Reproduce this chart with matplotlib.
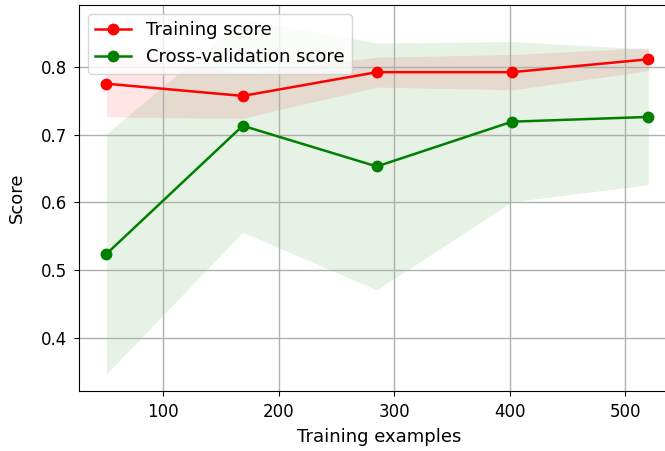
import matplotlib
matplotlib.use("Agg")
import matplotlib.pyplot as plt
import numpy as np

train_sizes = [51, 169, 285, 402, 520]
train_mean = [0.775, 0.757, 0.792, 0.792, 0.811]
train_std = [0.049, 0.033, 0.022, 0.026, 0.017]
test_mean = [0.524, 0.713, 0.653, 0.719, 0.726]
test_std = [0.177, 0.157, 0.182, 0.118, 0.100]

tm = np.array(train_mean); ts = np.array(train_std)
vm = np.array(test_mean); vs = np.array(test_std)

plt.rcParams['font.family'] = ['DejaVu Sans']
fig = plt.figure(figsize=(6.65, 4.51), dpi=100)
ax = fig.add_axes([79/665, (451-391)/451, (680-79)/665, (391-5)/451])

ax.grid(True, color='#b0b0b0', linewidth=1.0)
ax.fill_between(train_sizes, tm - ts, tm + ts, alpha=0.1, color='r', linewidth=0)
ax.fill_between(train_sizes, vm - vs, vm + vs, alpha=0.1, color='g', linewidth=0)
ax.plot(train_sizes, tm, 'o-', color='r', label='Training score', linewidth=1.8, markersize=7.5)
ax.plot(train_sizes, vm, 'o-', color='g', label='Cross-validation score', linewidth=1.8, markersize=7.5)

ax.set_xlim(27.3, 547.4)
ax.set_ylim(0.322, 0.891)
ax.set_xticks([100, 200, 300, 400, 500])
ax.set_yticks([0.4, 0.5, 0.6, 0.7, 0.8])
ax.tick_params(labelsize=12, pad=5)
ax.spines['right'].set_visible(False)
ax.set_xlabel('Training examples', fontsize=13)
ax.set_ylabel('Score', fontsize=13)
ax.xaxis.set_label_coords(0.5, -0.095)
ax.yaxis.set_label_coords(-0.088, 0.5)
ax.legend(loc='upper left', fontsize=13)

fig.savefig('out.png', dpi=100)
